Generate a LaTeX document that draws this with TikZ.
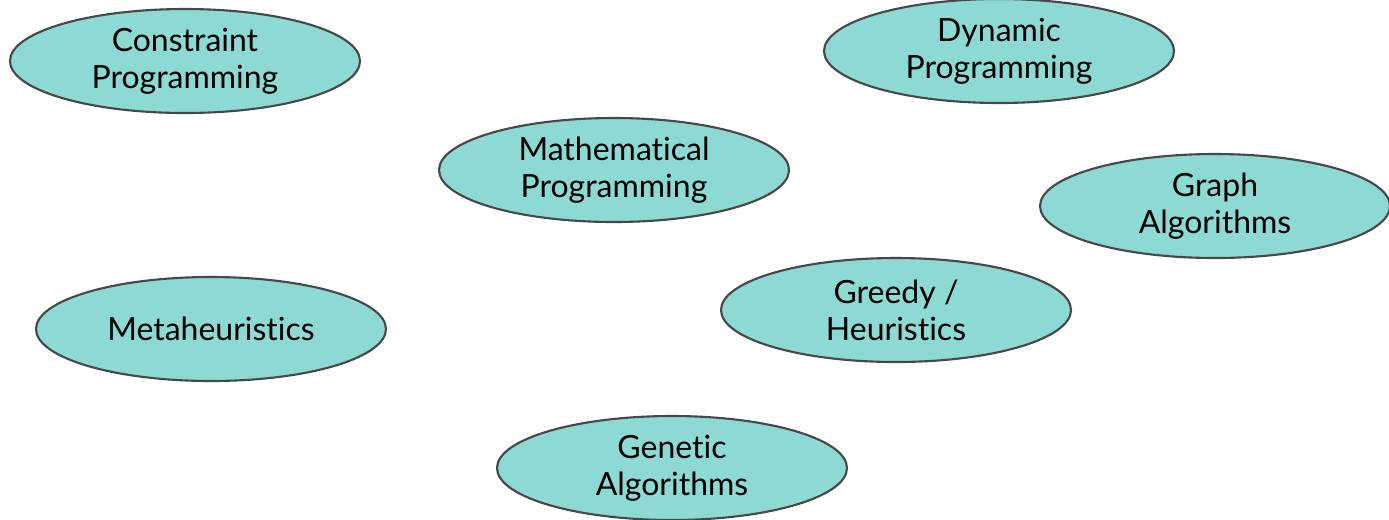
\documentclass[tikz,border=0pt]{standalone}
\usepackage{fontspec}
\setmainfont{Lato}[Ligatures=NoCommon]
\usetikzlibrary{shapes.geometric}

\definecolor{tealfill}{HTML}{8DD9D3}
\definecolor{rimgray}{HTML}{474747}

\tikzset{
  method/.style={ellipse, draw=rimgray, line width=0.6pt, fill=tealfill,
    minimum width=3.5cm, minimum height=1.04cm, inner sep=0pt,
    align=center, font=\fontsize{9.1}{10.6}\selectfont},
}

\begin{document}
\begin{tikzpicture}
  \useasboundingbox (0,0) rectangle (13.89,-5.19);
  \node[method] (constraint) at (1.85,-0.61) {Constraint\\Programming};
  \node[method] (dynamic) at (9.99,-0.51) {Dynamic\\Programming};
  \node[method] (math) at (6.14,-1.70) {Mathematical\\Programming};
  \node[method] (graph) at (12.15,-2.06) {Graph\\Algorithms};
  \node[method] (meta) at (2.11,-3.29) {Metaheuristics};
  \node[method] (greedy) at (8.96,-3.10) {Greedy /\\Heuristics};
  \node[method] (genetic) at (6.72,-4.68) {Genetic\\Algorithms};
\end{tikzpicture}
\end{document}
